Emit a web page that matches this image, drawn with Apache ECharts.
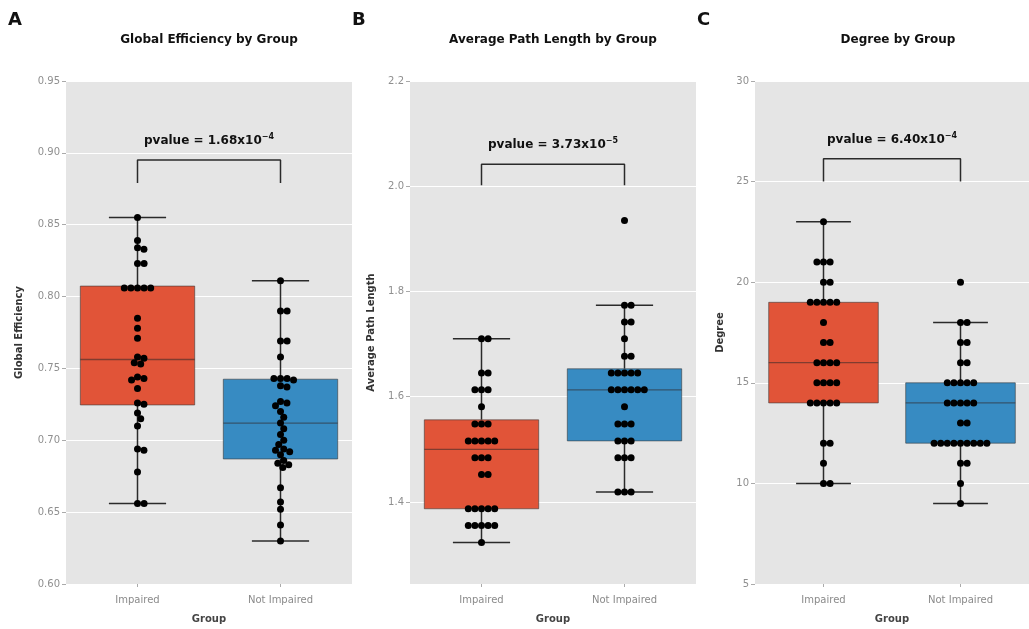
<!DOCTYPE html>
<html><head><meta charset="utf-8">
<script src="https://cdn.jsdelivr.net/npm/echarts@6/dist/echarts.min.js"></script>
<style>html,body{margin:0;padding:0;background:#fff}#c{width:1029px;height:629px}</style>
</head><body><div id="c"></div>
<script>
const categories = ['Impaired', 'Not Impaired'];
const groupColors = ['#E15438', '#378BC2'];

// Panel A: Global Efficiency
const geImpaired = [0.855, 0.839, 0.834, 0.833, 0.823, 0.823, 0.806, 0.806, 0.806, 0.806, 0.806, 0.785, 0.778, 0.771, 0.758, 0.757, 0.754, 0.753, 0.744, 0.743, 0.742, 0.736, 0.726, 0.725, 0.719, 0.715, 0.710, 0.694, 0.693, 0.678, 0.656, 0.656];
const geNotImpaired = [0.811, 0.790, 0.790, 0.769, 0.769, 0.758, 0.743, 0.743, 0.743, 0.742, 0.738, 0.737, 0.727, 0.726, 0.724, 0.720, 0.716, 0.712, 0.708, 0.704, 0.700, 0.697, 0.694, 0.693, 0.692, 0.690, 0.686, 0.684, 0.683, 0.681, 0.667, 0.657, 0.652, 0.641, 0.630];
const geBox = [[0.656, 0.7246, 0.7562, 0.8073, 0.855], [0.630, 0.687, 0.712, 0.7425, 0.811]];
const geTicks = [0.60, 0.65, 0.70, 0.75, 0.80, 0.85, 0.90, 0.95];
const geRange = [0.60, 0.95];
const geBracket = [0.879, 0.895];

// Panel B: Average Path Length
const aplImpaired = [1.710, 1.710, 1.645, 1.645, 1.613, 1.613, 1.613, 1.581, 1.548, 1.548, 1.548, 1.516, 1.516, 1.516, 1.516, 1.516, 1.484, 1.484, 1.484, 1.452, 1.452, 1.387, 1.387, 1.387, 1.387, 1.387, 1.355, 1.355, 1.355, 1.355, 1.355, 1.323];
const aplNotImpaired = [1.935, 1.774, 1.774, 1.742, 1.742, 1.710, 1.677, 1.677, 1.645, 1.645, 1.645, 1.645, 1.645, 1.613, 1.613, 1.613, 1.613, 1.613, 1.613, 1.581, 1.548, 1.548, 1.548, 1.516, 1.516, 1.516, 1.484, 1.484, 1.484, 1.419, 1.419, 1.419];
const aplBox = [[1.323, 1.387, 1.500, 1.556, 1.710], [1.419, 1.516, 1.613, 1.653, 1.774]];
const aplTicks = [1.4, 1.6, 1.8, 2.0, 2.2];
const aplRange = [1.244, 2.2];
const aplBracket = [2.002, 2.042];

// Panel C: Degree
const degImpaired = [23, 21, 21, 21, 20, 20, 19, 19, 19, 19, 19, 18, 17, 17, 16, 16, 16, 16, 15, 15, 15, 15, 14, 14, 14, 14, 14, 12, 12, 11, 10, 10];
const degNotImpaired = [20, 18, 18, 17, 17, 16, 16, 15, 15, 15, 15, 15, 14, 14, 14, 14, 14, 13, 13, 12, 12, 12, 12, 12, 12, 12, 12, 12, 11, 11, 10, 9];
const degBox = [[10, 14, 16, 19, 23], [9, 12, 14, 15, 18]];
const degTicks = [5, 10, 15, 20, 25, 30];
const degRange = [5, 30];
const degBracket = [25.0, 26.14];

const panelLetters = ['A', 'B', 'C'];
const panelTitles = ['Global Efficiency by Group', 'Average Path Length by Group', 'Degree by Group'];
const yNames = ['Global Efficiency', 'Average Path Length', 'Degree'];
const pvalueMantissa = ['1.68', '3.73', '6.40'];
const pvalueExponent = ['\u22124', '\u22125', '\u22124'];
const tickDecimals = [2, 1, 0];

const panels = [
  {groups: [geImpaired, geNotImpaired], box: geBox, ticks: geTicks, range: geRange, bracket: geBracket},
  {groups: [aplImpaired, aplNotImpaired], box: aplBox, ticks: aplTicks, range: aplRange, bracket: aplBracket},
  {groups: [degImpaired, degNotImpaired], box: degBox, ticks: degTicks, range: degRange, bracket: degBracket}
];
const gridLefts = [66, 410, 755];
const yNameGaps = [42, 34, 30];
const gridW = 286, gridTop = 81, gridH = 508;
const FONT = 'DejaVu Sans';

const chart = echarts.init(document.getElementById('c'), null, {renderer: 'canvas'});

function boxRender(params, api) {
  const c = api.value(0);
  const pMin = api.coord([c, api.value(1)]);
  const pQ1 = api.coord([c, api.value(2)]);
  const pMed = api.coord([c, api.value(3)]);
  const pQ3 = api.coord([c, api.value(4)]);
  const pMax = api.coord([c, api.value(5)]);
  const band = api.size([1, 0])[0];
  const bw = band * 0.8, cw = bw * 0.5;
  const x = pMin[0];
  const wStyle = {stroke: '#2a2a2a', lineWidth: 1.5};
  return {type: 'group', children: [
    {type: 'line', shape: {x1: x, y1: pQ3[1], x2: x, y2: pMax[1]}, style: wStyle},
    {type: 'line', shape: {x1: x, y1: pQ1[1], x2: x, y2: pMin[1]}, style: wStyle},
    {type: 'line', shape: {x1: x - cw / 2, y1: pMax[1], x2: x + cw / 2, y2: pMax[1]}, style: wStyle},
    {type: 'line', shape: {x1: x - cw / 2, y1: pMin[1], x2: x + cw / 2, y2: pMin[1]}, style: wStyle},
    {type: 'rect', shape: {x: x - bw / 2, y: pQ3[1], width: bw, height: pQ1[1] - pQ3[1]},
      style: {fill: groupColors[c], stroke: 'rgba(60,60,60,0.6)', lineWidth: 1}},
    {type: 'line', shape: {x1: x - bw / 2, y1: pMed[1], x2: x + bw / 2, y2: pMed[1]},
      style: {stroke: 'rgba(50,40,40,0.55)', lineWidth: 1.3}}
  ]};
}

function buildOption(offsets) {
  const grid = [], xAxis = [], yAxis = [], series = [];
  panels.forEach((p, i) => {
    grid.push({left: gridLefts[i], top: gridTop, width: gridW, height: gridH, show: true,
      backgroundColor: '#E5E5E5', borderWidth: 0, containLabel: false});
    xAxis.push({type: 'category', gridIndex: i, data: categories,
      axisLine: {show: false}, axisTick: {show: true, alignWithLabel: true, length: 3, lineStyle: {color: '#aaa'}},
      axisLabel: {color: '#8a8a8a', fontSize: 10, fontFamily: FONT, margin: 11},
      splitLine: {show: false},
      name: 'Group', nameLocation: 'middle', nameGap: 30,
      nameTextStyle: {color: '#444', fontSize: 10, fontWeight: 'bold', fontFamily: FONT}});
    yAxis.push({type: 'value', gridIndex: i, min: p.range[0], max: p.range[1],
      axisLine: {show: false},
      axisTick: {show: true, length: 4, customValues: p.ticks, lineStyle: {color: '#aaa'}},
      axisLabel: {customValues: p.ticks, color: '#8f8f8f', fontSize: 10, fontFamily: FONT, margin: 6,
        formatter: v => Number(v).toFixed(tickDecimals[i])},
      splitLine: {show: true, lineStyle: {color: '#ffffff', width: 1}},
      name: yNames[i], nameLocation: 'middle', nameGap: yNameGaps[i],
      nameTextStyle: {color: '#333', fontSize: 10, fontWeight: 'bold', fontFamily: FONT}});
    series.push({type: 'custom', xAxisIndex: i, yAxisIndex: i, z: 2,
      encode: {x: 0, y: [1, 2, 3, 4, 5]},
      data: p.box.map((b, c) => [c].concat(b)), renderItem: boxRender});
    const pts = [];
    p.groups.forEach((vals, c) => {
      vals.forEach((v, k) => {
        const off = offsets ? offsets[i][c][k] : 0;
        pts.push({value: [c, v], symbolOffset: [off, 0]});
      });
    });
    series.push({type: 'scatter', xAxisIndex: i, yAxisIndex: i, z: 4, symbolSize: 7,
      itemStyle: {color: '#000', opacity: 1}, data: pts, silent: true, animation: false});
    series.push({type: 'line', xAxisIndex: i, yAxisIndex: i, z: 4, symbol: 'none',
      lineStyle: {color: '#2a2a2a', width: 1.5},
      data: [[0, p.bracket[0]], [0, p.bracket[1]], [1, p.bracket[1]], [1, p.bracket[0]]], animation: false});
  });
  return {animation: false, grid, xAxis, yAxis, series};
}

chart.setOption(buildOption(null));

function swarm(yPix, d) {
  const idx = yPix.map((v, i) => i).sort((a, b) => yPix[a] - yPix[b]);
  const placed = [];
  const off = new Array(yPix.length).fill(0);
  idx.forEach(i => {
    const y = yPix[i];
    const cands = [0];
    placed.forEach(p => {
      const dy = Math.abs(p.y - y);
      if (dy < d) {
        const dx = Math.sqrt(d * d - dy * dy);
        cands.push(p.x + dx, p.x - dx);
      }
    });
    cands.sort((a, b) => Math.abs(a) - Math.abs(b) || b - a);
    let chosen = 0;
    for (const cx of cands) {
      if (placed.every(p => (p.x - cx) * (p.x - cx) + (p.y - y) * (p.y - y) >= d * d - 0.01)) { chosen = cx; break; }
    }
    placed.push({x: chosen, y});
    off[i] = chosen;
  });
  return off;
}

const offsets = panels.map((p, i) => p.groups.map((vals, c) =>
  swarm(vals.map(v => chart.convertToPixel({gridIndex: i}, [c, v])[1]), 6.6)));

const opt = buildOption(offsets);
const graphic = [];
panels.forEach((p, i) => {
  const cx = gridLefts[i] + gridW / 2;
  graphic.push({type: 'text', x: cx, y: 40, style: {text: panelTitles[i], fill: '#111',
    font: 'bold 12px ' + FONT, align: 'center', verticalAlign: 'middle'}});
  graphic.push({type: 'text', x: gridLefts[i] - 58, y: 20, style: {text: panelLetters[i], fill: '#111',
    font: 'bold 18px ' + FONT, align: 'left', verticalAlign: 'middle'}});
  const a = chart.convertToPixel({gridIndex: i}, [0, p.bracket[1]]);
  const b = chart.convertToPixel({gridIndex: i}, [1, p.bracket[1]]);
  graphic.push({type: 'text', x: (a[0] + b[0]) / 2, y: a[1] - 19, z: 10, style: {
    text: '{m|pvalue = ' + pvalueMantissa[i] + 'x10}{s|' + pvalueExponent[i] + '}',
    fill: '#111', align: 'center', verticalAlign: 'middle',
    rich: {m: {font: 'bold 12px ' + FONT, fill: '#111', lineHeight: 16},
           s: {font: 'bold 8px ' + FONT, fill: '#111', verticalAlign: 'top', lineHeight: 10}}}});
});
opt.graphic = graphic;
chart.setOption(opt);
</script>
</body></html>
